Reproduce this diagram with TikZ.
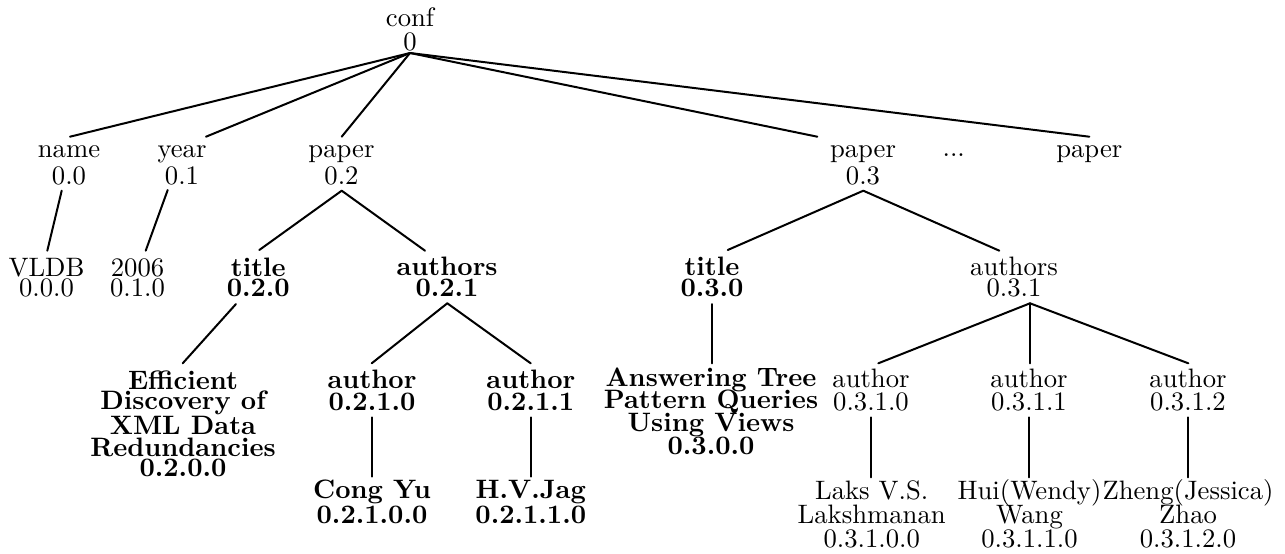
\documentclass[tikz,border=0pt]{standalone}
\tikzset{
  rn/.style={inner sep=0pt, outer sep=0pt, anchor=base, align=center,
    font={\fontsize{10}{#1}\selectfont\lineskiplimit=-100pt}},
  bn/.style={inner sep=0pt, outer sep=0pt, anchor=base, align=center,
    font={\fontsize{10}{#1}\selectfont\lineskiplimit=-100pt\bfseries}},
  link/.style={line width=0.75pt, line cap=round},
}
\begin{document}
\begin{tikzpicture}[x=0.375pt, y=-0.375pt]
\useasboundingbox (0,0) rectangle (1285,553);
% nodes (placed at the baseline of their last line)
\node[rn=8.8pt] (conf) at (410,50) {conf\\0};
\node[rn=10pt] (name) at (69,184.5) {name\\0.0};
\node[rn=10pt] (year) at (182,184.5) {year\\0.1};
\node[rn=10pt] (paperA) at (341.5,184.5) {paper\\0.2};
\node[rn=10pt] (paperB) at (863,184.5) {paper\\0.3};
\node[rn=10pt] (dots) at (953.7,156.5) {...};
\node[rn=10pt] (paperC) at (1089.3,157.5) {paper};
\node[rn=7.5pt] (vldb) at (46.5,296.7) {VLDB\\0.0.0};
\node[rn=7.5pt] (y2006) at (137.5,296.7) {2006\\0.1.0};
\node[bn=7.6pt] (titleA) at (258.3,296.7) {title\\0.2.0};
\node[bn=8pt] (authorsA) at (447,296.7) {authors\\0.2.1};
\node[bn=7.9pt] (titleB) at (712,296.3) {title\\0.3.0};
\node[rn=7.9pt] (authorsB) at (1014,296.3) {authors\\0.3.1};
\node[bn=7.7pt] (effic) at (183,476.7) {Efficient\\Discovery of\\[1.5pt]XML Data\\[0.5pt]Redundancies\\0.2.0.0};
\node[bn=8.1pt] (authAA) at (372,410) {author\\0.2.1.0};
\node[bn=8.1pt] (authAB) at (530.8,410) {author\\0.2.1.1};
\node[bn=8.5pt] (answer) at (711,454) {Answering Tree\\Pattern Queries\\Using Views\\0.3.0.0};
\node[rn=8.75pt] (authBA) at (871,410.7) {author\\0.3.1.0};
\node[rn=8.75pt] (authBB) at (1029,410.7) {author\\0.3.1.1};
\node[rn=8.75pt] (authBC) at (1188,410.7) {author\\0.3.1.2};
\node[bn=9.4pt] (cong) at (372,523.3) {Cong Yu\\0.2.1.0.0};
\node[bn=9.4pt] (hvjag) at (530.8,523.3) {H.V.Jag\\0.2.1.1.0};
\node[rn=8.9pt] (laks) at (871.7,547.3) {Laks V.S.\\Lakshmanan\\0.3.1.0.0};
\node[rn=8.9pt] (hui) at (1029.5,547.3) {Hui(Wendy)\\Wang\\0.3.1.1.0};
\node[rn=8.9pt] (zheng) at (1188,547.3) {Zheng(Jessica)\\Zhao\\0.3.1.2.0};
% attachment points
\coordinate (conf-b) at (410,53);
\coordinate (name-t) at (70,136.7);
\coordinate (year-t) at (206,136.7);
\coordinate (paperA-t) at (341.7,136.7);
\coordinate (paperB-t) at (817.3,136.7);
\coordinate (paperC-t) at (1089.3,136.7);
\coordinate (name-b) at (61.7,190.7);
\coordinate (year-b) at (167.7,190);
\coordinate (paperA-b) at (341.7,190.7);
\coordinate (paperB-b) at (863.3,190.7);
\coordinate (vldb-t) at (47.3,250.7);
\coordinate (y2006-t) at (145.7,250.7);
\coordinate (titleA-t) at (259.3,250);
\coordinate (authorsA-t) at (425,250.7);
\coordinate (titleB-t) at (727.7,250);
\coordinate (authorsB-t) at (999.3,250.7);
\coordinate (titleA-b) at (236,304);
\coordinate (authorsA-b) at (447.3,303.3);
\coordinate (titleB-b) at (712,304);
\coordinate (authorsB-b) at (1030,303.3);
\coordinate (effic-t) at (182.7,363.3);
\coordinate (authAA-t) at (371.7,363.3);
\coordinate (authAB-t) at (530.7,363.3);
\coordinate (answer-t) at (712,363.3);
\coordinate (authBA-t) at (878.3,363.3);
\coordinate (authBB-t) at (1030,363.3);
\coordinate (authBC-t) at (1188.3,363.3);
\coordinate (authAA-b) at (371.7,417.3);
\coordinate (authAB-b) at (530.7,417.3);
\coordinate (authBA-b) at (870.7,417.3);
\coordinate (authBB-b) at (1029.3,417.3);
\coordinate (authBC-b) at (1187.7,417.3);
\coordinate (cong-t) at (371.7,476.7);
\coordinate (hvjag-t) at (530.7,476.7);
\coordinate (laks-t) at (870.7,477.3);
\coordinate (hui-t) at (1029.3,477.3);
\coordinate (zheng-t) at (1187.7,477.3);
% connectors
\draw[link] (conf-b) -- (name-t);
\draw[link] (conf-b) -- (year-t);
\draw[link] (conf-b) -- (paperA-t);
\draw[link] (conf-b) -- (paperB-t);
\draw[link] (conf-b) -- (paperC-t);
\draw[link] (name-b) -- (vldb-t);
\draw[link] (year-b) -- (y2006-t);
\draw[link] (paperA-b) -- (titleA-t);
\draw[link] (paperA-b) -- (authorsA-t);
\draw[link] (paperB-b) -- (titleB-t);
\draw[link] (paperB-b) -- (authorsB-t);
\draw[link] (titleA-b) -- (effic-t);
\draw[link] (authorsA-b) -- (authAA-t);
\draw[link] (authorsA-b) -- (authAB-t);
\draw[link] (titleB-b) -- (answer-t);
\draw[link] (authorsB-b) -- (authBA-t);
\draw[link] (authorsB-b) -- (authBB-t);
\draw[link] (authorsB-b) -- (authBC-t);
\draw[link] (authAA-b) -- (cong-t);
\draw[link] (authAB-b) -- (hvjag-t);
\draw[link] (authBA-b) -- (laks-t);
\draw[link] (authBB-b) -- (hui-t);
\draw[link] (authBC-b) -- (zheng-t);
\end{tikzpicture}
\end{document}
